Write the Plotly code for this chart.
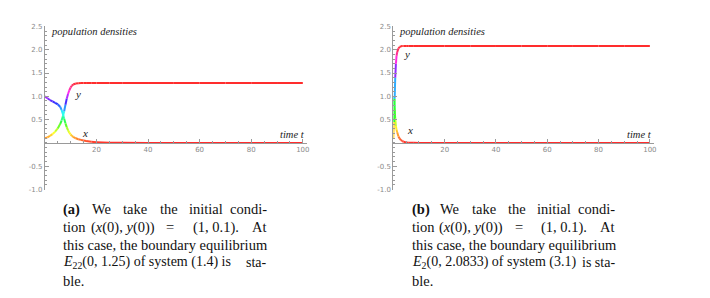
import plotly.graph_objects as go
import colorsys

# ---------------- data ----------------
t_a = [0, 1, 2, 3, 4, 5, 6, 6.5, 7, 7.5, 8, 8.5, 9, 9.5, 10, 10.5, 11, 12, 13, 14, 15, 16, 18, 20,
       25, 30, 40, 50, 60, 70, 80, 90, 100]
x_a = [1.00, 0.96, 0.92, 0.89, 0.86, 0.83, 0.77, 0.71, 0.62, 0.52, 0.42, 0.34, 0.27, 0.22, 0.18, 0.15,
       0.13, 0.10, 0.08, 0.065, 0.05, 0.04, 0.025, 0.015, 0.005, 0.002, 0, 0, 0, 0, 0, 0, 0]
y_a = [0.10, 0.12, 0.15, 0.19, 0.24, 0.31, 0.41, 0.48, 0.57, 0.68, 0.82, 0.95, 1.05, 1.13, 1.19, 1.23,
       1.255, 1.275, 1.282, 1.285, 1.285, 1.285, 1.285, 1.285, 1.285, 1.285, 1.285, 1.285, 1.285,
       1.285, 1.285, 1.285, 1.285]

t_b = [0, 0.25, 0.5, 0.75, 1.0, 1.25, 1.5, 2.0, 2.5, 3.0, 3.5, 4, 5, 6, 8, 10, 20, 30, 40, 50, 60,
       70, 80, 90, 100]
x_b = [1.00, 0.95, 0.75, 0.52, 0.36, 0.28, 0.23, 0.14, 0.09, 0.06, 0.04, 0.025, 0.01, 0.004, 0.001,
       0, 0, 0, 0, 0, 0, 0, 0, 0, 0]
y_b = [0.10, 0.45, 0.95, 1.40, 1.70, 1.87, 1.95, 2.03, 2.06, 2.075, 2.08, 2.08, 2.08, 2.08, 2.08,
       2.08, 2.08, 2.08, 2.08, 2.08, 2.08, 2.08, 2.08, 2.08, 2.08]

x_tick_vals = [20, 40, 60, 80, 100]
x_tick_text = ["20", "40", "60", "80", "100"]
y_tick_vals = [-1.0, -0.5, 0.5, 1.0, 1.5, 2.0, 2.5]
y_tick_text = ["-1.0", "-0.5", "0.5", "1.0", "1.5", "2.0", "2.5"]

y_title = "population densities"
x_title = "time <i>t</i>"

cap_a = [
    ["<b>(a)</b>", "We", "take", "the", "initial", "condi-"],
    ["tion", "(<i>x</i>(0), <i>y</i>(0))", "=", "(1, 0.1).", "At"],
    ["this case, the boundary equilibrium"],
    ["<i>E</i><sub>22</sub>(0, 1.25) of system (1.4) is", "sta-"],
    ["ble."],
]
cap_b = [
    ["<b>(b)</b>", "We", "take", "the", "initial", "condi-"],
    ["tion", "(<i>x</i>(0), <i>y</i>(0))", "=", "(1, 0.1).", "At"],
    ["this case, the boundary equilibrium"],
    ["<i>E</i><sub>2</sub>(0, 2.0833) of system (3.1)", "is sta-"],
    ["ble."],
]

# ---------------- layout helpers ----------------
W, H = 710, 298
Y0_PX = 143.0          # pixel row of y = 0
TOP_PX, BOT_PX = 23.05, 191.95
AX_COLOR = "#9a9a9a"
SERIF = "Liberation Serif, Times New Roman, serif"
TICK_FONT = dict(family="DejaVu Sans", size=7, color="#8a8a8a")
LBL_FONT = dict(family=SERIF, size=10.5, color="#222222")
CAP_SIZE = [14.5, 14.5, 14.5, 14.0, 14.5]


def hue(v, vmax):
    h = max(0.0, min(1.0, v / vmax))
    r, g, b = colorsys.hsv_to_rgb(h, 0.82, 1.0)
    return f"rgb({int(r*255)},{int(g*255)},{int(b*255)})"


fig = go.Figure()


def add_curve(t, v, vmax, xa, ya):
    for i in range(len(t) - 1):
        fig.add_trace(go.Scatter(
            x=[t[i], t[i + 1]], y=[v[i], v[i + 1]], mode="lines",
            line=dict(color=hue((v[i] + v[i + 1]) / 2, vmax), width=2),
            xaxis=xa, yaxis=ya, showlegend=False, hoverinfo="skip"))


vmax_a = max(max(x_a), max(y_a))
vmax_b = max(max(x_b), max(y_b))
add_curve(t_a, x_a, vmax_a, "x", "y")
add_curve(t_a, y_a, vmax_a, "x", "y")
add_curve(t_b, x_b, vmax_b, "x2", "y2")
add_curve(t_b, y_b, vmax_b, "x2", "y2")

ydom = [1 - BOT_PX / H, 1 - TOP_PX / H]
xpos = 1 - Y0_PX / H


def xaxis_def(dom, rng):
    return dict(domain=dom, range=rng, anchor="free", position=xpos,
                showgrid=False, zeroline=False, showline=True, linecolor=AX_COLOR, linewidth=1,
                tickmode="array", tickvals=x_tick_vals, ticktext=x_tick_text,
                ticks="inside", ticklen=4, tickcolor=AX_COLOR, tickwidth=1,
                tickfont=TICK_FONT,
                minor=dict(ticks="inside", dtick=5, tick0=0, ticklen=2, tickcolor=AX_COLOR,
                           showgrid=False))


def yaxis_def(anchor):
    return dict(domain=ydom, range=[-1.02, 2.52], anchor=anchor,
                showgrid=False, zeroline=False, showline=True, linecolor=AX_COLOR, linewidth=1,
                tickmode="array", tickvals=y_tick_vals, ticktext=y_tick_text,
                ticks="inside", ticklen=4, tickcolor=AX_COLOR, tickwidth=1,
                tickfont=TICK_FONT,
                minor=dict(ticks="inside", dtick=0.1, tick0=0, ticklen=2, tickcolor=AX_COLOR,
                           showgrid=False))


annotations = []
# axis labels and curve labels
for xr, yr, x0, xend, lab_y, lab_x in [
    ("x", "y", 49, 101.5, (13.0, 1.05), (15.4, 0.21)),
    ("x2", "y2", 399, 101.7, (5.5, 1.9), (6.5, 0.27)),
]:
    annotations.append(dict(x=x0 / W, y=1 - 29.5 / H, xref="paper", yref="paper",
                            text=f"<i>{y_title}</i>", showarrow=False, xanchor="left",
                            yanchor="middle", font=LBL_FONT))
    annotations.append(dict(x=xend, y=0, xref=xr, yref=yr, text=f"<i>{x_title}</i>",
                            showarrow=False, xanchor="right", yanchor="bottom", yshift=1,
                            font=LBL_FONT))
    annotations.append(dict(x=lab_y[0], y=lab_y[1], xref=xr, yref=yr, text="<i>y</i>",
                            showarrow=False, xanchor="center", yanchor="middle",
                            font=dict(family=SERIF, size=11, color="#222222")))
    annotations.append(dict(x=lab_x[0], y=lab_x[1], xref=xr, yref=yr, text="<i>x</i>",
                            showarrow=False, xanchor="center", yanchor="middle",
                            font=dict(family=SERIF, size=11, color="#222222")))

# captions (word positions measured in pixels)
line_y = [211, 229.5, 247.5, 266, 284.3]
pos_a = [
    [61.7, 90, 121.7, 158.3, 187.7, 270],
    [61.7, 89.3, 165, 191.7, 270],
    [61.7],
    [61.7, 270],
    [61.7],
]
for cap, off in [(cap_a, 0), (cap_b, 350)]:
    for li, words in enumerate(cap):
        for wi, w in enumerate(words):
            px = pos_a[li][wi] + off
            last = (len(words) > 1 and wi == len(words) - 1)
            annotations.append(dict(x=px / W, y=1 - line_y[li] / H, xref="paper", yref="paper",
                                    text=w, showarrow=False,
                                    xanchor="right" if last else "left", yanchor="middle",
                                    font=dict(family=SERIF, size=CAP_SIZE[li], color="#111111")))

fig.update_layout(
    width=W, height=H, margin=dict(l=0, r=0, t=0, b=0),
    paper_bgcolor="white", plot_bgcolor="white",
    xaxis=xaxis_def([45 / W, 308 / W], [0, 101.5]),
    yaxis=yaxis_def("x"),
    xaxis2=xaxis_def([395 / W, 657 / W], [0, 101.7]),
    yaxis2=yaxis_def("x2"),
    annotations=annotations,
    showlegend=False,
)

fig.write_html("out.html", config={"displayModeBar": False},
               post_script="document.body.style.margin='0';")
